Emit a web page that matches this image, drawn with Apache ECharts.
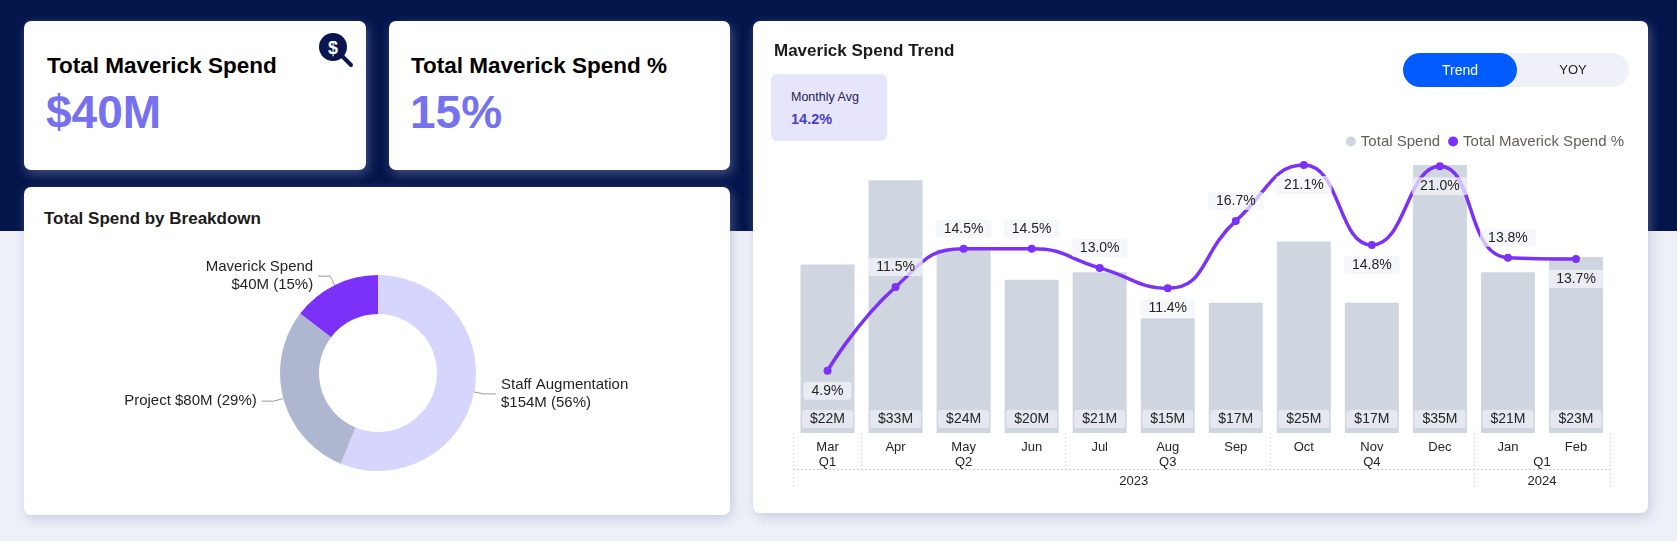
<!DOCTYPE html>
<html>
<head>
<meta charset="UTF-8"/>
<script src="https://cdn.jsdelivr.net/npm/echarts@6/dist/echarts.min.js"></script>
<style>
  html, body { margin: 0; padding: 0; }
  body {
    width: 1677px; height: 541px; overflow: hidden; position: relative;
    background: #eef0f8;
    font-family: "Liberation Sans", Arial, sans-serif;
  }
  .band { position: absolute; left: 0; top: 0; width: 1677px; height: 231px; background: #03154b; }
  .card {
    position: absolute; background: #fff; border-radius: 7px;
    box-shadow: 2px 4px 12px rgba(150, 160, 195, 0.45);
  }
  .txt { position: absolute; white-space: nowrap; }
  .kpi-title { font-size: 22.5px; font-weight: bold; color: #000; line-height: 26px; }
  .kpi-value { font-size: 46px; font-weight: bold; color: #7571ef; line-height: 52px; }
  .sec-title { font-size: 17px; font-weight: bold; color: #1b1b1b; line-height: 20px; }
  #donut, #trend { position: absolute; }
</style>
</head>
<body>
<div class="band"></div>

<!-- KPI cards -->
<div class="card" style="left:24px;top:21px;width:342px;height:149px;"></div>
<div class="card" style="left:389px;top:21px;width:341px;height:149px;"></div>
<div class="txt kpi-title" style="left:47px;top:53px;">Total Maverick Spend</div>
<div class="txt kpi-value" style="left:46px;top:86px;">$40M</div>
<div class="txt kpi-title" style="left:411px;top:53px;">Total Maverick Spend %</div>
<div class="txt kpi-value" style="left:410px;top:86px;">15%</div>
<svg class="txt" style="left:316px;top:30px;" width="42" height="42" viewBox="0 0 42 42">
  <line x1="25" y1="25" x2="35" y2="35" stroke="#0b1650" stroke-width="4" stroke-linecap="round"/>
  <circle cx="17" cy="17" r="14" fill="#0b1650"/>
  <text x="17" y="23.5" text-anchor="middle" font-family="Liberation Sans, Arial" font-weight="bold" font-size="18" fill="#fff">$</text>
</svg>

<!-- breakdown card -->
<div class="card" style="left:24px;top:187px;width:706px;height:328px;"></div>
<div class="txt sec-title" style="left:44px;top:209px;">Total Spend by Breakdown</div>
<div id="donut" style="left:24px;top:187px;width:706px;height:328px;"></div>

<!-- trend card -->
<div class="card" style="left:753px;top:21px;width:895px;height:492px;"></div>
<div id="trend" style="left:753px;top:21px;width:895px;height:492px;"></div>
<div class="txt sec-title" style="left:774px;top:41px;">Maverick Spend Trend</div>
<div class="txt" style="left:771px;top:74px;width:116px;height:67px;background:#e6e5fc;border-radius:6px;"></div>
<div class="txt" style="left:791px;top:89px;font-size:12.5px;color:#24244e;line-height:16px;">Monthly Avg</div>
<div class="txt" style="left:791px;top:110px;font-size:14.5px;font-weight:bold;color:#4a41bd;line-height:18px;">14.2%</div>
<div class="txt" style="left:1403px;top:53px;width:226px;height:34px;background:#eff0f8;border-radius:17px;"></div>
<div class="txt" style="left:1403px;top:53px;width:114px;height:34px;background:#005cff;border-radius:17px;color:#fff;font-size:14px;line-height:34px;text-align:center;">Trend</div>
<div class="txt" style="left:1517px;top:53px;width:112px;height:34px;color:#252423;font-size:13px;line-height:34px;text-align:center;">YOY</div>

<script>
// ---- data ----
const months = ['Mar', 'Apr', 'May', 'Jun', 'Jul', 'Aug', 'Sep', 'Oct', 'Nov', 'Dec', 'Jan', 'Feb'];
const totalSpend = [22, 33, 24, 20, 21, 15, 17, 25, 17, 35, 21, 23];          // $M
const maverickPct = [4.9, 11.5, 14.5, 14.5, 13.0, 11.4, 16.7, 21.1, 14.8, 21.0, 13.8, 13.7];
const quarterNames = ['Q1', 'Q2', 'Q3', 'Q4', 'Q1'];
const quarterMonths = [1, 3, 3, 3, 2];
const yearNames = ['2023', '2024'];
const yearMonths = [10, 2];
const breakdownNames = ['Staff Augmentation', 'Project', 'Maverick Spend'];
const breakdownValues = [154, 80, 40];

// which line labels sit under their point
const pctLabelBelow = [0, 5, 7, 8, 9, 11];

const FONT = '"Liberation Sans", Arial, sans-serif';
const PURPLE = '#7b31f7';
const BAR = '#d0d6df';
const DOT = '#c4c4c4';
const DOTTED = [1, 3];

// ---- donut ----
const donut = echarts.init(document.getElementById('donut'), null, { renderer: 'canvas' });
donut.setOption({
  animation: false,
  textStyle: { fontFamily: FONT },
  series: [{
    type: 'pie',
    center: [354, 186],
    radius: [59, 98],
    startAngle: 90,
    clockwise: true,
    emphasis: { disabled: true },
    label: {
      show: true,
      position: 'outside',
      fontSize: 15,
      lineHeight: 18,
      color: '#252423',
      fontFamily: FONT,
      formatter: p => {
        const sep = p.name === 'Project' ? ' ' : '\n';
        return p.name + sep + '$' + p.value + 'M (' + Math.round(p.percent) + '%)';
      }
    },
    labelLine: { show: true, length: 10, length2: 12, lineStyle: { color: '#9a9a9a', width: 1 } },
    data: breakdownNames.map((n, i) => ({
      name: n,
      value: breakdownValues[i],
      itemStyle: { color: ['#d5d5fd', '#aeb6d0', PURPLE][i] }
    }))
  }]
});

// ---- hierarchy axis helper (half-month slots) ----
function buildLevel(names, sizes) {
  const text = new Array(months.length * 2 + 1).fill('');
  const ticks = new Set();
  let start = 0;
  names.forEach((n, i) => {
    ticks.add(start * 2);
    text[start * 2 + sizes[i]] = n;
    start += sizes[i];
  });
  ticks.add(start * 2);
  return { text, ticks };
}
const qLevel = buildLevel(quarterNames, quarterMonths);
const yLevel = buildLevel(yearNames, yearMonths);
const slots = qLevel.text.map((_, i) => String(i));

// ---- trend ----
const trend = echarts.init(document.getElementById('trend'), null, { renderer: 'canvas' });
trend.setOption({
  animation: false,
  textStyle: { fontFamily: FONT },
  legend: {
    right: 19,
    top: 108,
    icon: 'circle',
    itemWidth: 10,
    itemHeight: 10,
    itemGap: 8,
    textStyle: { fontSize: 15, color: '#605e5c', fontFamily: FONT },
    data: ['Total Spend', 'Total Maverick Spend %']
  },
  grid: { left: 40.5, right: 38, top: 144, bottom: 80 },
  xAxis: [
    {
      type: 'category',
      data: months,
      axisLine: { show: false },
      axisTick: { show: false },
      axisLabel: { margin: 8, fontSize: 13, color: '#252423', fontFamily: FONT, interval: 0 }
    },
    {
      type: 'category',
      position: 'bottom',
      boundaryGap: false,
      data: slots,
      axisLine: { show: false },
      axisTick: { show: true, length: 35, interval: i => qLevel.ticks.has(i), lineStyle: { type: DOTTED, color: DOT } },
      axisLabel: { interval: 0, margin: 23, fontSize: 13, color: '#252423', fontFamily: FONT, formatter: (v, i) => qLevel.text[i] }
    },
    {
      type: 'category',
      position: 'bottom',
      offset: 36,
      boundaryGap: false,
      data: slots,
      axisLine: { show: true, lineStyle: { type: DOTTED, color: DOT } },
      axisTick: { show: true, length: 20, interval: i => yLevel.ticks.has(i), lineStyle: { type: DOTTED, color: DOT } },
      axisLabel: { interval: 0, margin: 6, fontSize: 13, color: '#252423', fontFamily: FONT, formatter: (v, i) => yLevel.text[i] }
    }
  ],
  yAxis: [
    { type: 'value', min: 0, max: 35, show: false },
    { type: 'value', min: 0, max: 21.1, show: false }
  ],
  series: [
    {
      name: 'Total Spend',
      type: 'bar',
      data: totalSpend,
      barWidth: 54,
      itemStyle: { color: BAR },
      emphasis: { disabled: true },
      label: {
        show: true,
        position: 'insideBottom',
        distance: 5,
        formatter: p => '$' + p.value + 'M',
        fontSize: 14,
        color: '#252423',
        fontFamily: FONT,
        backgroundColor: '#e5e8f0',
        padding: [2, 8],
        borderRadius: 3
      }
    },
    {
      name: 'Total Maverick Spend %',
      type: 'line',
      yAxisIndex: 1,
      smooth: 0.5,
      symbol: 'circle',
      symbolSize: 8,
      lineStyle: { color: PURPLE, width: 3.5 },
      itemStyle: { color: PURPLE },
      emphasis: { disabled: true },
      label: {
        show: true,
        distance: 7,
        fontSize: 14,
        color: '#252423',
        fontFamily: FONT,
        backgroundColor: 'rgba(243,244,249,0.72)',
        padding: [2, 8],
        borderRadius: 3,
        formatter: p => p.value.toFixed(1) + '%'
      },
      data: maverickPct.map((v, i) => ({
        value: v,
        label: { position: pctLabelBelow.includes(i) ? 'bottom' : 'top' }
      }))
    }
  ]
});
</script>
</body>
</html>
